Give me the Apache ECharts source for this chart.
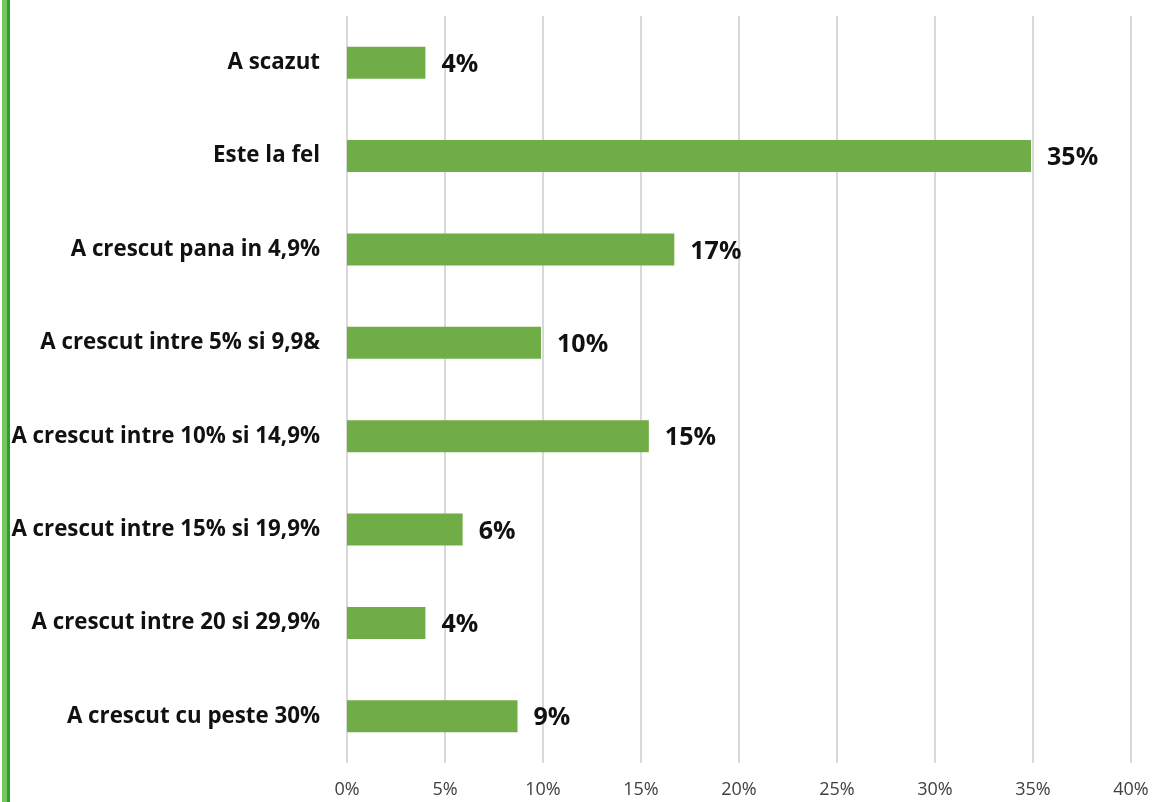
<!DOCTYPE html>
<html>
<head>
<meta charset="utf-8">
<script src="https://cdn.jsdelivr.net/npm/echarts@6/dist/echarts.min.js"></script>
<style>
  html, body { margin: 0; padding: 0; background: #fff; }
  #chart { width: 1154px; height: 802px; }
</style>
</head>
<body>
<div id="chart"></div>
<script>
// answers, top to bottom as shown
const categories = [
  "A scazut",
  "Este la fel",
  "A crescut pana in 4,9%",
  "A crescut intre 5% si 9,9&",
  "A crescut intre 10% si 14,9%",
  "A crescut intre 15% si 19,9%",
  "A crescut intre 20 si 29,9%",
  "A crescut cu peste 30%",
];
// share of respondents, in percent
const shares = [4.0, 34.9, 16.7, 9.9, 15.4, 5.9, 4.0, 8.7];
const xTicks = [0, 5, 10, 15, 20, 25, 30, 35, 40];

const barColor = "#70AD47";
const font = "'Open Sans', 'Liberation Sans', sans-serif";

const chart = echarts.init(document.getElementById("chart"));
chart.setOption({
  animation: false,
  backgroundColor: "#fff",
  grid: { left: 347, right: 23, top: 16, bottom: 39, containLabel: false },
  graphic: [
    { type: "rect", left: 2, top: 0, shape: { width: 5, height: 802 }, style: { fill: "#72c75e" } },
    { type: "rect", left: 7, top: 0, shape: { width: 3, height: 802 }, style: { fill: "#2f9e2f" } },
  ],
  xAxis: {
    type: "value",
    min: xTicks[0],
    max: xTicks[xTicks.length - 1],
    interval: 5,
    axisLine: { show: false },
    axisTick: { show: false },
    splitLine: { show: true, lineStyle: { color: "#d9d9d9", width: 2 } },
    axisLabel: {
      margin: 18,
      color: "#404040",
      fontSize: 18,
      fontFamily: font,
      formatter: (v) => v + "%",
    },
  },
  yAxis: {
    type: "category",
    inverse: true,
    data: categories,
    axisLine: { show: false },
    axisTick: { show: false },
    axisLabel: {
      margin: 27,
      color: "#111",
      fontSize: 22.3,
      fontWeight: "bold",
      fontFamily: font,
    },
  },
  series: [
    {
      type: "bar",
      data: shares,
      barWidth: 32,
      itemStyle: { color: barColor },
      label: {
        show: true,
        position: "right",
        distance: 16,
        offset: [0, 2],
        color: "#111",
        fontSize: 25,
        fontWeight: "bold",
        fontFamily: font,
        formatter: (p) => Math.round(p.value) + "%",
      },
    },
  ],
});
</script>
</body>
</html>
